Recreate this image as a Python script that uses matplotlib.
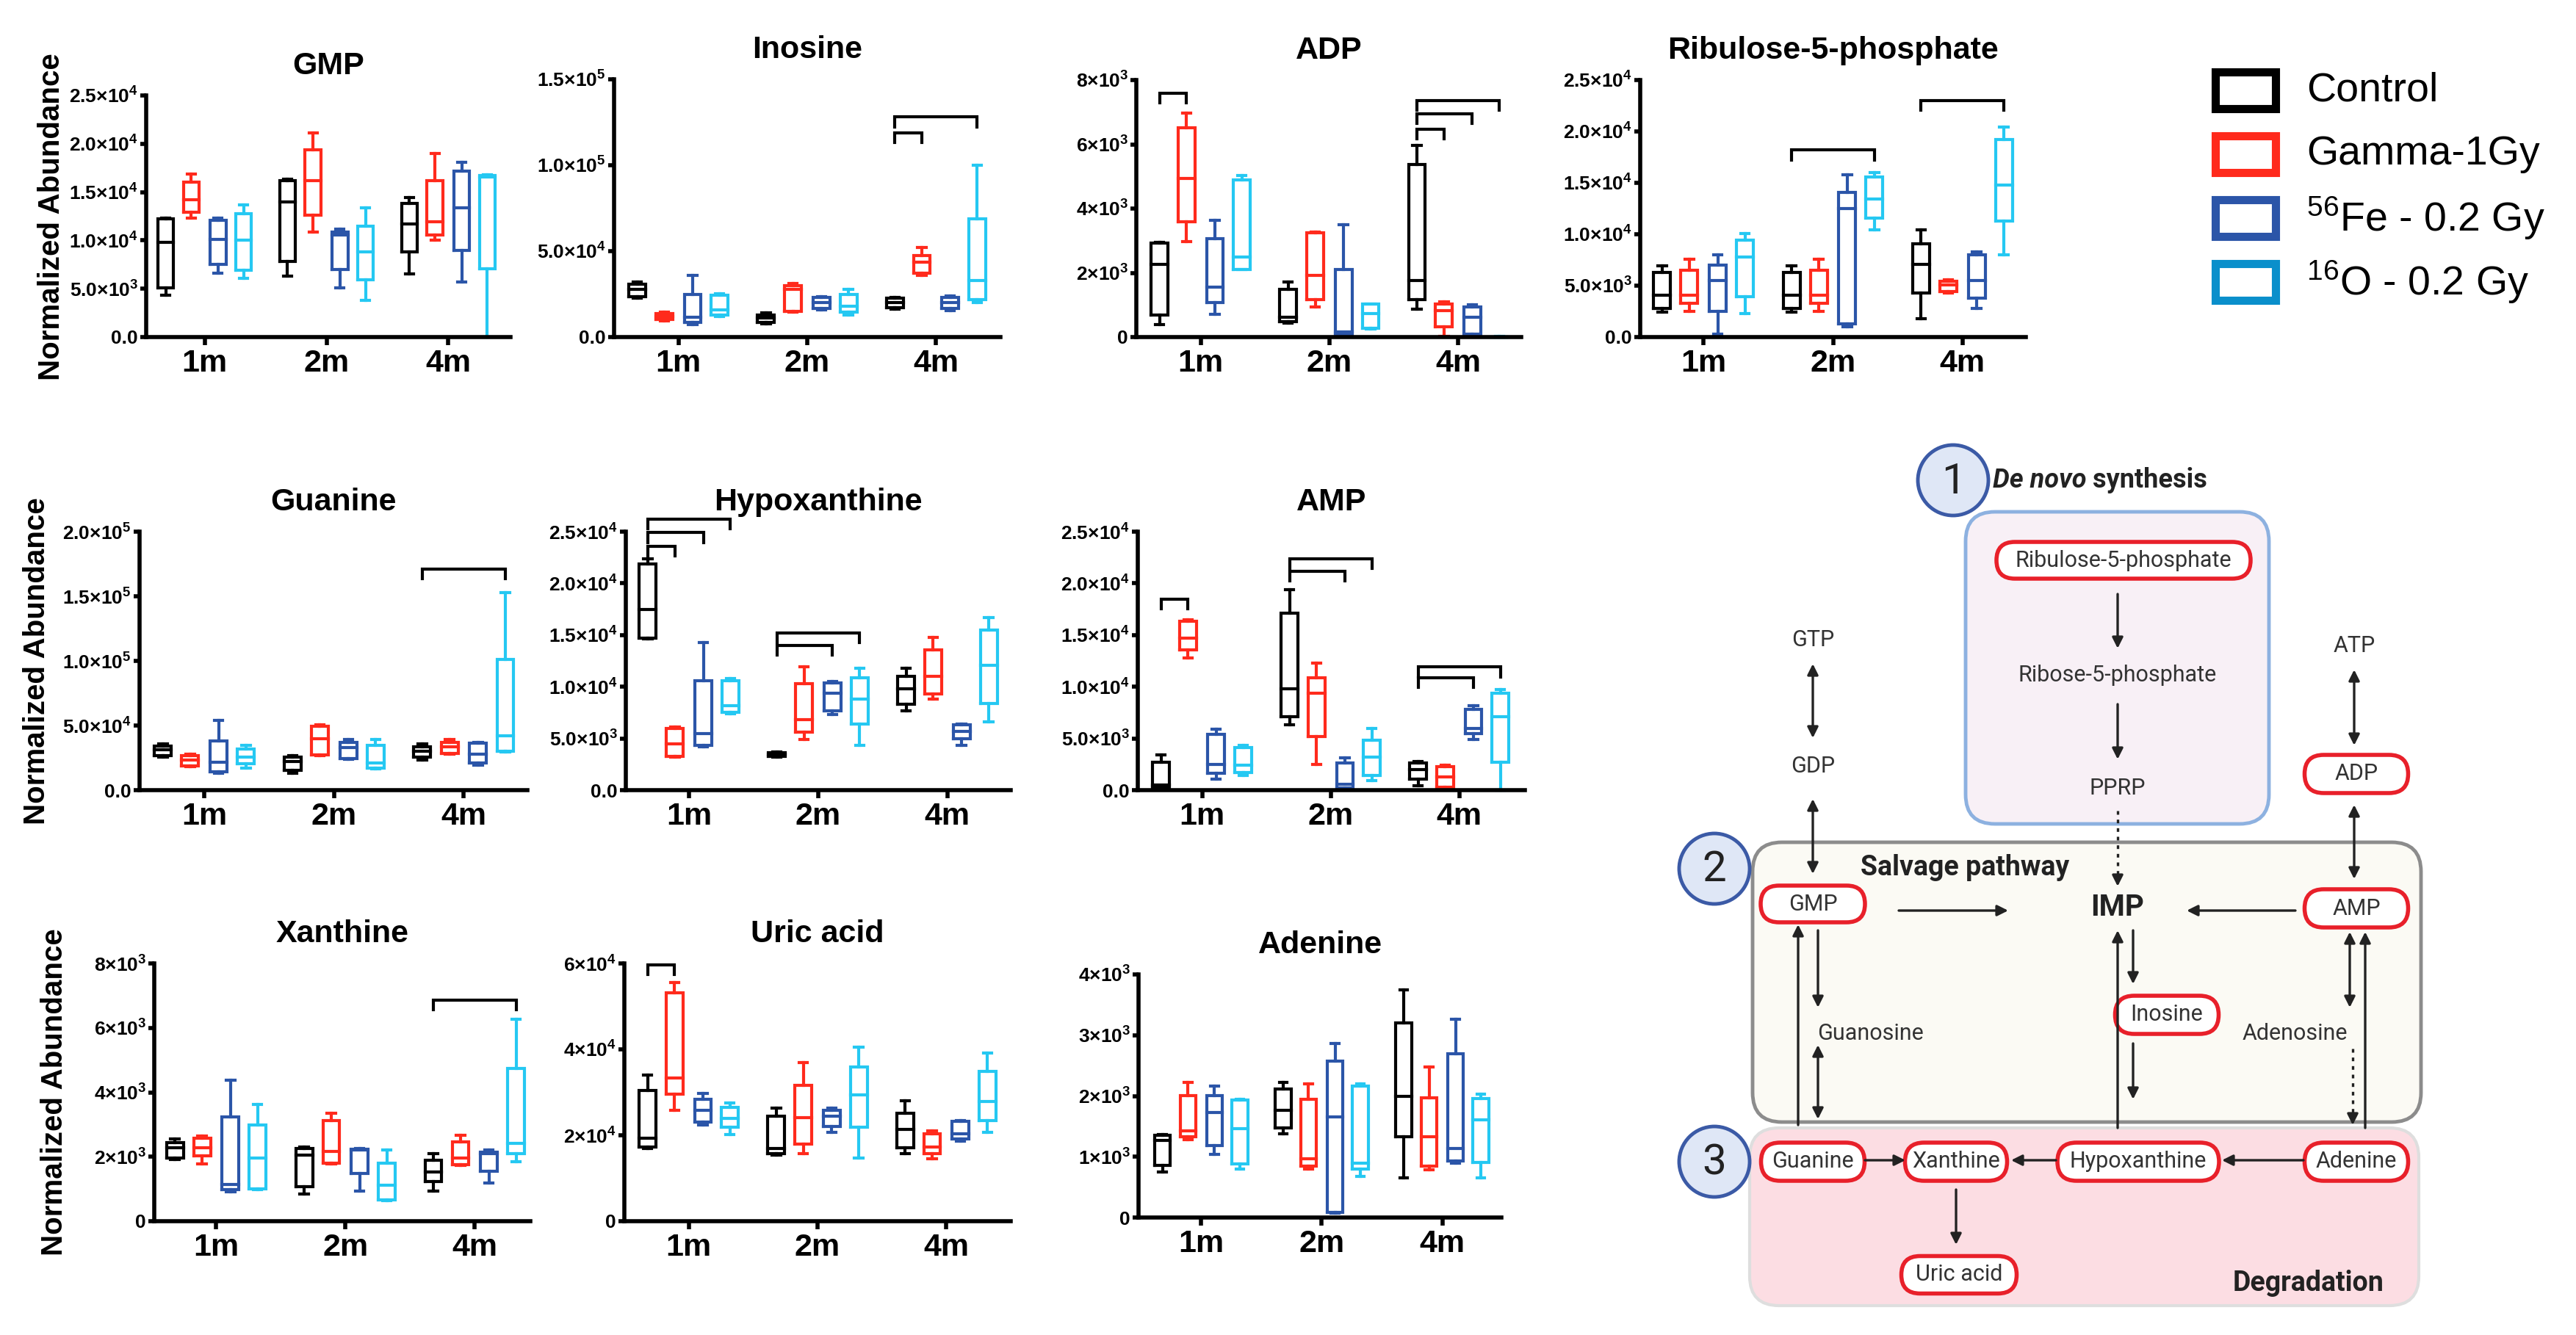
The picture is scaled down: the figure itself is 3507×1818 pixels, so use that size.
import matplotlib
matplotlib.use('Agg')
import matplotlib.pyplot as plt
from matplotlib.patches import FancyBboxPatch, Circle, Rectangle

plt.rcParams['font.family'] = ['Liberation Sans', 'DejaVu Sans']
plt.rcParams['mathtext.default'] = 'regular'

W, H = 3507, 1818

groups = ['1m', '2m', '4m']
series = ['Control', 'Gamma-1Gy', '$^{56}$Fe - 0.2 Gy', '$^{16}$O - 0.2 Gy']
box_colors = ['#000000', '#ff2a1c', '#2b55a8', '#25c8f2']
legend_colors = ['#000000', '#ff2a1c', '#2b55a8', '#0a8fcb']
offsets = [-0.32, -0.11, 0.11, 0.32]

# box stats: [group][series] = (whislo, q1, median, q3, whishi)
gmp = [[(4300, 5100, 9800, 12200, 12300), (12300, 12900, 14200, 16000, 16900),
        (6600, 7500, 10100, 12100, 12300), (6100, 6900, 10000, 12800, 13700)],
       [(6300, 7850, 14000, 16200, 16300), (10900, 12600, 16200, 19400, 21100),
        (5100, 7000, 10600, 10900, 11200), (3800, 5900, 8850, 11500, 13400)],
       [(6500, 8800, 11700, 13800, 14400), (10000, 10600, 11900, 16200, 19000),
        (5700, 9000, 13400, 17200, 18100), (0, 7100, 16600, 16700, 16800)]]

inosine = [[(22500, 23500, 27600, 30600, 32000), (9200, 10200, 12100, 13800, 14600),
            (7400, 8400, 11700, 24700, 36000), (12100, 12900, 15800, 24400, 25400)],
           [(7700, 8700, 10900, 12900, 13900), (14600, 15100, 27900, 29900, 31300),
            (15800, 16600, 20000, 22900, 23500), (12900, 14600, 18000, 24700, 27600)],
           [(16100, 17000, 20200, 22500, 23200), (35800, 37200, 43400, 47600, 52000),
            (15500, 16600, 20200, 23200, 23900), (19900, 22000, 32800, 68700, 100000)]]

adp = [[(390, 690, 2270, 2920, 2940), (2970, 3590, 4940, 6520, 6980),
        (700, 1070, 1560, 3060, 3630), (2100, 2110, 2490, 4880, 5020)],
       [(440, 490, 620, 1480, 1720), (930, 1160, 1910, 3240, 3280),
        (40, 100, 170, 2100, 3500), (250, 280, 730, 1020, 1040)],
       [(860, 1160, 1760, 5360, 5970), (20, 330, 830, 1040, 1100),
        (60, 100, 610, 930, 1000), (0, 0, 0, 10, 20)]]

ribulose = [[(2400, 2800, 4100, 6300, 6900), (2500, 3300, 4100, 6500, 7600),
             (300, 2500, 5500, 7000, 8000), (2300, 3900, 7800, 9400, 10100)],
            [(2400, 2800, 4100, 6300, 6900), (2500, 3300, 4100, 6500, 7600),
             (1000, 1300, 12500, 14100, 15800), (10400, 11600, 13400, 15600, 16000)],
            [(1800, 4300, 7100, 9100, 10400), (4300, 4400, 5100, 5400, 5600),
             (2800, 3800, 5500, 8000, 8300), (8000, 11300, 14800, 19200, 20400)]]

guanine = [[(25500, 26500, 31200, 34100, 35700), (18400, 19000, 23500, 26500, 27600),
            (13300, 14300, 21400, 37800, 53700), (17300, 20400, 25500, 31600, 34700)],
           [(12900, 15300, 22400, 25500, 26500), (26500, 27100, 39800, 49600, 50400),
            (23900, 24500, 32700, 37100, 39200), (16300, 16900, 21000, 34700, 39200)],
           [(23500, 25500, 30000, 33700, 35700), (28000, 28600, 33700, 36700, 39200),
            (19400, 21000, 27600, 36100, 36700), (29600, 30000, 41800, 101000, 153000)]]

hypoxanthine = [[(14600, 14700, 17500, 21900, 22400), (3200, 3300, 4500, 6000, 6100),
                 (4200, 4300, 5500, 10600, 14300), (7400, 7500, 8200, 10600, 10800)],
                [(3200, 3300, 3500, 3600, 3700), (4900, 5600, 6800, 10300, 11900),
                 (7300, 7700, 9400, 10400, 10500), (4300, 6400, 8800, 10900, 11800)],
                [(7700, 8300, 9800, 11000, 11800), (8800, 9300, 11000, 13600, 14800),
                 (4300, 5000, 5700, 6300, 6400), (6600, 8400, 12100, 15500, 16700)]]

amp = [[(100, 300, 500, 2700, 3400), (12800, 13600, 14700, 16300, 16500),
        (1100, 1600, 2500, 5400, 5900), (1400, 1700, 2400, 4100, 4300)],
       [(6300, 7100, 9800, 17100, 19400), (2500, 5200, 9400, 10900, 12300),
        (100, 200, 600, 2600, 3100), (900, 1400, 3200, 4800, 6000)],
       [(400, 1100, 2000, 2600, 2800), (100, 300, 1300, 2300, 2400),
        (4900, 5500, 6000, 7800, 8200), (0, 2700, 7100, 9400, 9700)]]

xanthine = [[(1920, 1970, 2290, 2440, 2560), (1780, 2020, 2290, 2580, 2640),
             (920, 980, 1150, 3230, 4380), (980, 1000, 1970, 2990, 3620)],
            [(840, 1060, 2050, 2250, 2310), (1780, 1800, 2170, 3130, 3340),
             (940, 1490, 2210, 2230, 2250), (630, 660, 1110, 1800, 2210)],
            [(940, 1230, 1520, 1900, 2090), (1740, 1760, 1970, 2470, 2660),
             (1190, 1560, 2090, 2150, 2210), (1840, 2090, 2420, 4750, 6270)]]

uric_acid = [[(16900, 17200, 19300, 30400, 34100), (25800, 29600, 33300, 53100, 55600),
              (22400, 23000, 25800, 28300, 29800), (20100, 21800, 24000, 26500, 27600)],
             [(15400, 15700, 16900, 24400, 26300), (15700, 17900, 24100, 31600, 37000),
              (20600, 22000, 24400, 25800, 26300), (14700, 21800, 29400, 35900, 40500)],
             [(15700, 17100, 21300, 25200, 28100), (14600, 15800, 17200, 20300, 21000),
              (18700, 19200, 20300, 23200, 23500), (20600, 23500, 27800, 34900, 39200)]]

adenine = [[(750, 860, 1270, 1350, 1360), (1280, 1330, 1420, 2010, 2220),
            (1040, 1190, 1730, 2010, 2160), (800, 880, 1460, 1930, 1940)],
           [(1380, 1470, 1770, 2110, 2220), (800, 840, 970, 1940, 2200),
            (70, 90, 1650, 2570, 2860), (680, 800, 900, 2160, 2200)],
           [(650, 1330, 2000, 3200, 3750), (780, 840, 1330, 1970, 2480),
            (890, 930, 1140, 2700, 3260), (650, 910, 1610, 1960, 2030)]]

# y ticks
ticks_25k = [0, 5000, 10000, 15000, 20000, 25000]
labels_25k = ['0.0', '5.0×10$^{3}$', '1.0×10$^{4}$', '1.5×10$^{4}$', '2.0×10$^{4}$', '2.5×10$^{4}$']
ticks_150k = [0, 50000, 100000, 150000]
labels_150k = ['0.0', '5.0×10$^{4}$', '1.0×10$^{5}$', '1.5×10$^{5}$']
ticks_200k = [0, 50000, 100000, 150000, 200000]
labels_200k = ['0.0', '5.0×10$^{4}$', '1.0×10$^{5}$', '1.5×10$^{5}$', '2.0×10$^{5}$']
ticks_8k = [0, 2000, 4000, 6000, 8000]
labels_8k = ['0', '2×10$^{3}$', '4×10$^{3}$', '6×10$^{3}$', '8×10$^{3}$']
ticks_60k = [0, 20000, 40000, 60000]
labels_60k = ['0', '2×10$^{4}$', '4×10$^{4}$', '6×10$^{4}$']
ticks_4k = [0, 1000, 2000, 3000, 4000]
labels_4k = ['0', '1×10$^{3}$', '2×10$^{3}$', '3×10$^{3}$', '4×10$^{3}$']

# significance brackets: (group, series a, series b, height)
br_inosine = [(2, 0, 1, 119000), (2, 0, 3, 128000)]
br_adp = [(0, 0, 1, 7590), (2, 0, 1, 6480), (2, 0, 2, 6950), (2, 0, 3, 7370)]
br_ribulose = [(1, 0, 3, 18200), (2, 0, 3, 23000)]
br_guanine = [(2, 0, 3, 171000)]
br_hypox = [(0, 0, 1, 23600), (0, 0, 2, 24900), (0, 0, 3, 26200), (1, 0, 2, 14000), (1, 0, 3, 15200)]
br_amp = [(0, 0, 1, 18500), (1, 0, 2, 21200), (1, 0, 3, 22400), (2, 0, 2, 10900), (2, 0, 3, 11900)]
br_xanthine = [(2, 0, 3, 6860)]
br_uric = [(0, 0, 1, 59700)]

panels = [
    ('GMP', gmp, ticks_25k, labels_25k, []),
    ('Inosine', inosine, ticks_150k, labels_150k, br_inosine),
    ('ADP', adp, ticks_8k, labels_8k, br_adp),
    ('Ribulose-5-phosphate', ribulose, ticks_25k, labels_25k, br_ribulose),
    ('Guanine', guanine, ticks_200k, labels_200k, br_guanine),
    ('Hypoxanthine', hypoxanthine, ticks_25k, labels_25k, br_hypox),
    ('AMP', amp, ticks_25k, labels_25k, br_amp),
    ('Xanthine', xanthine, ticks_8k, labels_8k, br_xanthine),
    ('Uric acid', uric_acid, ticks_60k, labels_60k, br_uric),
    ('Adenine', adenine, ticks_4k, labels_4k, []),
]

# axes placement in pixels: left, right, top, zero line, xmin, xmax
layout = [
    (199, 695, 130, 459, -0.48, 2.51),
    (836, 1362, 108, 459, -0.50, 2.50),
    (1547, 2071, 109, 459, -0.50, 2.49),
    (2233, 2758, 109, 459, -0.49, 2.49),
    (190, 718, 724, 1076, -0.50, 2.49),
    (852, 1376, 724, 1076, -0.49, 2.49),
    (1549, 2076, 724, 1076, -0.50, 2.51),
    (210, 722, 1312, 1663, -0.48, 2.43),
    (850, 1376, 1312, 1663, -0.50, 2.50),
    (1550, 2044, 1327, 1658, -0.52, 2.49),
]

fig = plt.figure(figsize=(W / 100, H / 100), dpi=100)

# overlay in pixel coordinates for legend, labels and the pathway scheme
ov = fig.add_axes([0, 0, 1, 1])
ov.set_xlim(0, W)
ov.set_ylim(H, 0)
ov.axis('off')

lw_box = 3.0
for (title, data, yt, yl, brackets), (L, R, T, B, x0, x1) in zip(panels, layout):
    ax = fig.add_axes([L / W, 1 - B / H, (R - L) / W, (B - T) / H])
    for s in range(4):
        stats = [dict(whislo=v[0], q1=v[1], med=v[2], q3=v[3], whishi=v[4], fliers=[])
                 for v in (data[g][s] for g in range(3))]
        props = dict(color=box_colors[s], linewidth=lw_box, clip_on=False,
                     solid_capstyle='projecting', solid_joinstyle='miter')
        ax.bxp(stats, positions=[g + offsets[s] for g in range(3)], widths=0.13,
               showfliers=False, boxprops=props, whiskerprops=props, capprops=props,
               medianprops=props, manage_ticks=False, capwidths=0.065)
    drop = 0.038 * yt[-1]
    for g, a, b, h in brackets:
        xa, xb = g + offsets[a], g + offsets[b]
        ax.plot([xa, xa, xb, xb], [h - drop, h, h, h - drop], color='black',
                lw=lw_box, clip_on=False, solid_joinstyle='miter')
    ax.set_xlim(x0, x1)
    ax.set_ylim(0, yt[-1])
    ax.set_yticks(yt)
    ax.set_yticklabels(yl, fontsize=19, fontweight='bold')
    ax.set_xticks([0, 1, 2])
    ax.set_xticklabels(groups, fontsize=31, fontweight='bold')
    ax.spines[['top', 'right']].set_visible(False)
    ax.spines[['left', 'bottom']].set_linewidth(4)
    ax.tick_params(axis='x', length=8, width=4, pad=3.5)
    ax.tick_params(axis='y', length=6, width=4, pad=2)
    ax.patch.set_alpha(0)
    ax.annotate(title, xy=(0.5, 1), xycoords='axes fraction', xytext=(0, 21),
                textcoords='offset points', ha='center', va='baseline',
                fontsize=31, fontweight='bold')

for yc in [(70, 295), (50, 900), (74, 1487)]:
    ov.text(yc[0], yc[1], 'Normalized Abundance', rotation=90, ha='center', va='center',
            fontsize=29, fontweight='bold')

# legend
for i, (lab, col) in enumerate(zip(series, legend_colors)):
    yc = 123 + 87 * i
    ov.add_patch(Rectangle((3016, yc - 25), 82, 50, fill=False, edgecolor=col, lw=8,
                           joinstyle='miter'))
    ov.text(3140, yc, lab, ha='left', va='center', fontsize=40)

# ---- pathway scheme ----
rf = ['Roboto', 'DejaVu Sans']
ink = '#222222'


def rbox(x0, y0, x1, y1, fc, ec, r=40, lw=3.5, z=1):
    ov.add_patch(FancyBboxPatch((x0, y0), x1 - x0, y1 - y0,
                                boxstyle=f'round,pad=0,rounding_size={r}',
                                fc=fc, ec=ec, lw=lw, zorder=z))


rbox(2676, 697, 3089, 1122, '#f8f0f6', '#8db1e0')
rbox(2386, 1147, 3296, 1528, '#fbfaf4', '#8c8c8c')
rbox(2382, 1536, 3293, 1778, '#fcdde3', '#dedede', lw=3)

for (cx, cy, num) in [(2659, 654, '1'), (2334, 1183, '2'), (2334, 1582, '3')]:
    ov.add_patch(Circle((cx, cy), 48, fc='#dfe7f6', ec='#3b5aa6', lw=3.5, zorder=3))
    ov.text(cx, cy + 2, num, ha='center', va='center', fontsize=42, family=rf,
            color=ink, zorder=4)

t1 = ov.text(2713, 654, 'De novo', ha='left', va='center', fontsize=26,
             fontweight='bold', style='italic', family=rf, color=ink)
ov.annotate(' synthesis', xy=(1, 0), xycoords=t1, ha='left', va='bottom',
            fontsize=26, fontweight='bold', family=rf, color=ink)
ov.text(2533, 1182, 'Salvage pathway', ha='left', va='center', fontsize=27,
        fontweight='bold', family=rf, color=ink, zorder=4)
ov.text(3245, 1748, 'Degradation', ha='right', va='center', fontsize=27,
        fontweight='bold', family=rf, color=ink, zorder=4)
ov.text(2883, 1236, 'IMP', ha='center', va='center', fontsize=29,
        fontweight='bold', family=rf, color=ink, zorder=4)

pills = [('Ribulose-5-phosphate', 2891, 763, 346, 50), ('ADP', 3208, 1054, 141, 52),
         ('GMP', 2468, 1231, 142, 50), ('AMP', 3208, 1237, 141, 52),
         ('Inosine', 2950, 1382, 141, 52), ('Guanine', 2468, 1582, 141, 52),
         ('Xanthine', 2663, 1582, 139, 52), ('Hypoxanthine', 2911, 1582, 220, 52),
         ('Adenine', 3208, 1582, 141, 52), ('Uric acid', 2667, 1736, 157, 51)]
for lab, cx, cy, w, h in pills:
    rbox(cx - w / 2, cy - h / 2, cx + w / 2, cy + h / 2, 'white', '#e8202a',
         r=h / 2, lw=4, z=4)
    ov.text(cx, cy, lab, ha='center', va='center', fontsize=22, family=rf,
            color='#333333', zorder=5)

plain = [('GTP', 2468, 872), ('GDP', 2468, 1044), ('ATP', 3205, 880),
         ('Ribose-5-phosphate', 2883, 920), ('PPRP', 2883, 1074),
         ('Guanosine', 2546, 1407), ('Adenosine', 3124, 1407)]
for lab, cx, cy in plain:
    ov.text(cx, cy, lab, ha='center', va='center', fontsize=22, family=rf,
            color='#333333', zorder=5)


def arrow(p0, p1, both=False, z=6):
    ov.annotate('', xy=p1, xytext=p0,
                arrowprops=dict(arrowstyle='<|-|>' if both else '-|>', color=ink,
                                lw=2.4, shrinkA=0, shrinkB=0, mutation_scale=22),
                zorder=z)


def dotted(p0, p1):
    ov.plot([p0[0], p1[0]], [p0[1], p1[1] - 12], color=ink, lw=2.4, ls=(0, (1.5, 2)),
            zorder=6)
    arrow((p1[0], p1[1] - 14), p1)


arrow((2883, 809), (2883, 883))
arrow((2883, 959), (2883, 1034))
dotted((2883, 1104), (2883, 1207))
arrow((2468, 904), (2468, 1005), both=True)
arrow((2468, 1088), (2468, 1190), both=True)
arrow((3205, 912), (3205, 1015), both=True)
arrow((3205, 1096), (3205, 1197), both=True)
arrow((2585, 1240), (2734, 1240))
arrow((3125, 1240), (2977, 1240))
arrow((2475, 1267), (2475, 1372))
arrow((2448, 1532), (2448, 1259))
arrow((2475, 1423), (2475, 1524), both=True)
arrow((2904, 1267), (2904, 1340))
arrow((2883, 1536), (2883, 1267))
arrow((2904, 1421), (2904, 1497))
arrow((3199, 1269), (3199, 1372), both=True)
dotted((3203, 1428), (3203, 1532))
arrow((3220, 1536), (3220, 1269))
arrow((2539, 1580), (2594, 1580))
arrow((2799, 1580), (2738, 1580))
arrow((3136, 1580), (3025, 1580))
arrow((2663, 1620), (2663, 1695))

fig.savefig('out.png', dpi=100)
